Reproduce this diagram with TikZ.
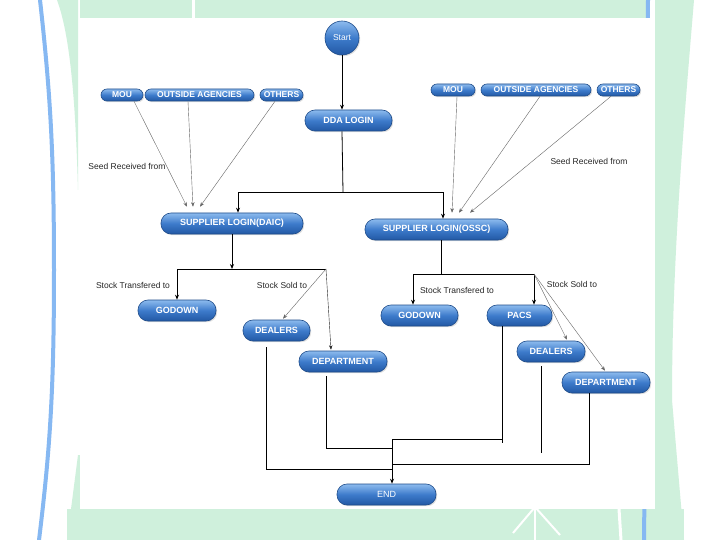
\documentclass[tikz,border=0pt]{standalone}
\usepackage{fontspec}
\setmainfont{Liberation Sans}
\usetikzlibrary{arrows.meta,shadows}
\definecolor{bggreen}{HTML}{CFF0DC}
\definecolor{bgblue}{HTML}{86B8F2}
\definecolor{pilltop}{HTML}{8DBBEE}
\definecolor{pillmid}{HTML}{3D7BCB}
\definecolor{pillbot}{HTML}{2258A4}
\definecolor{pilledge}{HTML}{1E4C8A}
\tikzset{
  pill/.style={draw=pilledge, line width=0.6pt, rounded corners=10pt,
    top color=pilltop, bottom color=pillbot, middle color=pillmid,
    text=white, font=\fontsize{9}{9}\selectfont\bfseries, inner sep=0pt,
    minimum height=21pt,
    drop shadow={opacity=0.25, shadow xshift=1.2pt, shadow yshift=-1.2pt}},
  smallpill/.style={pill, rounded corners=6pt, minimum height=12pt,
    font=\fontsize{8.5}{8.5}\selectfont\bfseries},
  startnode/.style={draw=pilledge, line width=0.6pt, circle,
    top color=pilltop, bottom color=pillbot, middle color=pillmid,
    text=white, font=\fontsize{8.5}{9}\selectfont, inner sep=0pt,
    minimum size=34pt,
    drop shadow={opacity=0.25, shadow xshift=1.2pt, shadow yshift=-1.2pt}},
  lbl/.style={font=\fontsize{8.5}{9}\selectfont, text=black!85, inner sep=0pt},
  conn/.style={line width=0.8pt, black},
  arr/.style={conn, -{Stealth[length=5pt,width=4pt]}},
  seed/.style={line width=0.4pt, black!60, -{Stealth[length=4.5pt,width=3.5pt]}},
}
\begin{document}
\begin{tikzpicture}[x=1pt,y=-1pt]
\useasboundingbox (0,0) rectangle (720,540);
% ---------- background ----------
\fill[white] (0,0) rectangle (720,540);
\fill[bggreen] (655,0) -- (694,0) .. controls (684,120) and (672,260) .. (672,400) -- (684,540) -- (655,540) -- cycle;
\fill[bggreen] (80,0) rectangle (650,18);
\fill[bggreen] (67,509) rectangle (684,540);
\fill[bggreen] (78,455) -- (80,455) -- (80,540) -- (67,540) -- cycle;
\fill[bggreen] (57,0) -- (78,0) -- (78,190) .. controls (76,120) and (72,40) .. (57,0) -- cycle;
\draw[bgblue, line width=4pt] (648,0) .. controls (646,180) and (646,360) .. (644,540);
\fill[white] (80,18) rectangle (655,509);
\draw[white, line width=3pt] (193,0) -- (193,18);
\draw[white, line width=3pt] (619,509) -- (621,540);
\draw[white, line width=2pt] (535,505) -- (535,540);
\draw[white, line width=2pt] (535,507) -- (513,533);
\draw[white, line width=2pt] (535,507) -- (560,535);
\draw[bgblue, line width=4pt] (40,0) .. controls (50,90) and (54,150) .. (54,270) .. controls (54,390) and (50,450) .. (39,540);
% ---------- nodes ----------
\node[startnode] (start) at (342,38) {Start};
\node[pill, minimum width=87pt] (ddal) at (348.5,120.5) {DDA LOGIN};
\node[smallpill, minimum width=42pt] (mouL) at (122,95) {MOU};
\node[smallpill, minimum width=109pt] (oaL) at (199.5,95) {OUTSIDE AGENCIES};
\node[smallpill, minimum width=43pt] (othL) at (281.5,95) {OTHERS};
\node[smallpill, minimum width=44pt] (mouR) at (453,90) {MOU};
\node[smallpill, minimum width=110pt] (oaR) at (536,90) {OUTSIDE AGENCIES};
\node[smallpill, minimum width=43pt] (othR) at (618.5,90) {OTHERS};
\node[pill, minimum width=142pt] (daic) at (232,223.5) {SUPPLIER LOGIN(DAIC)};
\node[pill, minimum width=143pt] (ossc) at (436.5,229.5) {SUPPLIER LOGIN(OSSC)};
\node[pill, minimum width=78pt] (godL) at (177,310.5) {GODOWN};
\node[pill, minimum width=67pt] (dealL) at (276.5,330.5) {DEALERS};
\node[pill, minimum width=88pt] (deptL) at (343,361.5) {DEPARTMENT};
\node[pill, minimum width=77pt] (godR) at (419.5,315.5) {GODOWN};
\node[pill, minimum width=65pt] (pacs) at (519.5,315.5) {PACS};
\node[pill, minimum width=68pt] (dealR) at (551,351.5) {DEALERS};
\node[pill, minimum width=88pt] (deptR) at (606,382.5) {DEPARTMENT};
\node[pill, minimum width=99pt, font=\fontsize{9}{9}\selectfont] (endn) at (386.5,494.5) {END};
% ---------- labels ----------
\node[lbl] (lseedL) at (127,166) {Seed Received from};
\node[lbl] (lseedR) at (589,161) {Seed Received from};
\node[lbl] (ltrL) at (133,285) {Stock Transfered to};
\node[lbl] (lsoL) at (282,285) {Stock Sold to};
\node[lbl] (ltrR) at (457,290) {Stock Transfered to};
\node[lbl] (lsoR) at (572,284) {Stock Sold to};
% ---------- junction coordinates ----------
\coordinate (hub) at (343,192);
\coordinate (s1) at (232,269);
\coordinate (s1r) at (326,269);
\coordinate (s2) at (441,274);
\coordinate (s2r) at (534,274);
\coordinate (e0) at (392,439);
\coordinate (e1) at (392,448);
\coordinate (e2) at (392,464);
\coordinate (e3) at (392,469);
% ---------- connectors ----------
\draw[arr] (start.south) -- (start.south |- ddal.north);
\draw[conn] (ddal.south -| start.center) -- (hub);
\draw[arr] (hub) -| ([xshift=6pt]daic.north);
\draw[arr] (hub) -| ([xshift=6.5pt]ossc.north);
% seed arrows
\draw[seed] ([xshift=12pt]mouL.south) -- ([xshift=-45pt,yshift=6pt]daic.north);
\draw[seed] ([xshift=-11.5pt]oaL.south) -- ([xshift=-39pt,yshift=6pt]daic.north);
\draw[seed] ([xshift=-6.5pt]othL.south) -- ([xshift=-32pt,yshift=6pt]daic.north);
\draw[seed] ([xshift=4pt]mouR.south) -- ([xshift=15.5pt,yshift=6pt]ossc.north);
\draw[seed] ([xshift=4pt]oaR.south) -- ([xshift=22.5pt,yshift=6pt]ossc.north);
\draw[seed] ([xshift=-7.5pt]othR.south) -- ([xshift=33.5pt,yshift=6pt]ossc.north);
% DAIC distribution
\draw[arr] (daic.south) -- (s1);
\draw[arr] (s1) -| (godL.north);
\draw[conn] (s1) -- (s1r);
\draw[seed] (s1r) -- ([xshift=6.5pt,yshift=1pt]dealL.north);
\draw[seed, black!85] (s1r) -- ([xshift=-12pt,yshift=1pt]deptL.north);
% OSSC distribution
\draw[conn] ([xshift=4.5pt]ossc.south) -- (s2);
\draw[arr] (s2) -| ([xshift=-6.5pt]godR.north);
\draw[arr] (s2) -| ([xshift=14.5pt]pacs.north);
\draw[seed] (s2r) -- ([xshift=16pt,yshift=1pt]dealR.north);
\draw[seed] (s2r) -- ([xshift=-1pt,yshift=1pt]deptR.north);
% to END
\draw[conn] ([xshift=-17.5pt]pacs.south) |- (e0);
\draw[conn] ([xshift=-17.5pt]pacs.south |- e0) -- ++(0,4);
\draw[conn] ([xshift=-10.5pt,yshift=-6pt]dealL.south) |- (e3);
\draw[conn] ([xshift=-17pt,yshift=-4pt]deptL.south) |- (e1);
\draw[conn] ([xshift=-17pt]deptR.south) |- (e2);
\draw[conn] ([xshift=-10pt,yshift=-4pt]dealR.south) -- ++(0,87);
\draw[arr] (e0) -- ([xshift=5.5pt]endn.north);
\end{tikzpicture}
\end{document}
